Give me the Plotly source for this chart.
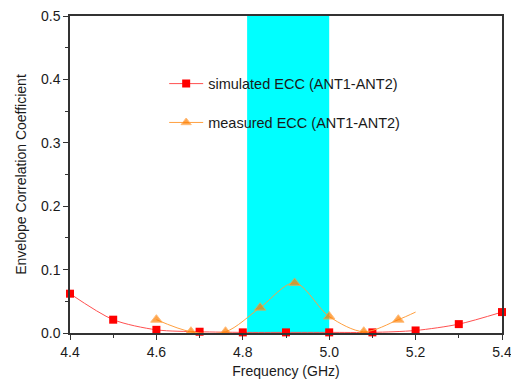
import plotly.graph_objects as go

sim_x = [4.4, 4.5, 4.6, 4.7, 4.8, 4.9, 5.0, 5.1, 5.2, 5.3, 5.4]
sim_y = [0.062, 0.021, 0.005, 0.002, 0.001, 0.001, 0.001, 0.001, 0.004, 0.014, 0.033]

meas_x = [4.6, 4.68, 4.76, 4.84, 4.92, 5.0, 5.08, 5.16, 5.2]
meas_y = [0.021, 0.002, 0.002, 0.040, 0.079, 0.026, 0.002, 0.021, 0.033]
meas_marker = [10, 10, 10, 10, 10, 10, 10, 10, 0]

band = [4.81, 5.0]

FONT = "Liberation Sans, Arial"

fig = go.Figure()
fig.add_trace(go.Scatter(
    x=sim_x, y=sim_y, mode="lines+markers", name="simulated ECC (ANT1-ANT2)",
    line=dict(color="#FF5050", width=1, shape="spline", smoothing=0.8),
    marker=dict(symbol="square", size=8, color="#FF0000"),
    legendgroup="a", cliponaxis=False))
fig.add_trace(go.Scatter(
    x=meas_x, y=meas_y, mode="lines+markers", name="measured ECC (ANT1-ANT2)",
    line=dict(color="#FFA040", width=1, shape="spline", smoothing=0.9),
    marker=dict(symbol="triangle-up", size=meas_marker, color="#FF7F00"),
    legendgroup="b", cliponaxis=False))

fig.add_shape(type="rect", x0=band[0], x1=band[1], y0=0, y1=0.5,
              xref="x", yref="y", fillcolor="#00FFFF", line=dict(width=0), layer="below")

axis_common = dict(showline=True, linecolor="#333333", linewidth=1.5, mirror=True,
                   ticks="outside", ticklen=5, tickcolor="#333333", showgrid=False,
                   zeroline=False, automargin=False, ticklabeloverflow="allow",
                   tickfont=dict(family=FONT, size=14, color="#1a1a1a"),
                   title_font=dict(family=FONT, size=14, color="#1a1a1a"))

fig.update_xaxes(range=[4.4, 5.4], dtick=0.2, tickformat=".1f",
                 minor=dict(dtick=0.1, ticks="outside", ticklen=3, tickcolor="#333333"),
                 title_text="Frequency (GHz)", title_standoff=8, **axis_common)
fig.update_yaxes(range=[0, 0.5], dtick=0.1, tickformat=".1f",
                 minor=dict(dtick=0.05, ticks="outside", ticklen=3, tickcolor="#333333"),
                 title_text="Envelope Correlation Coefficient", title_standoff=11, **axis_common)

fig.update_layout(
    width=511, height=381,
    margin=dict(l=70, r=9, t=16, b=48),
    plot_bgcolor="white", paper_bgcolor="white",
    showlegend=True,
    legend=dict(x=0.218, y=0.837, xanchor="left", yanchor="top",
                bgcolor="rgba(0,0,0,0)", tracegroupgap=17,
                font=dict(family=FONT, size=14.5, color="#1a1a1a"),
                itemwidth=34),
)

fig.write_html("out.html", config={"displayModeBar": False},
               post_script="document.body.style.margin='0';document.body.style.overflow='hidden';")
